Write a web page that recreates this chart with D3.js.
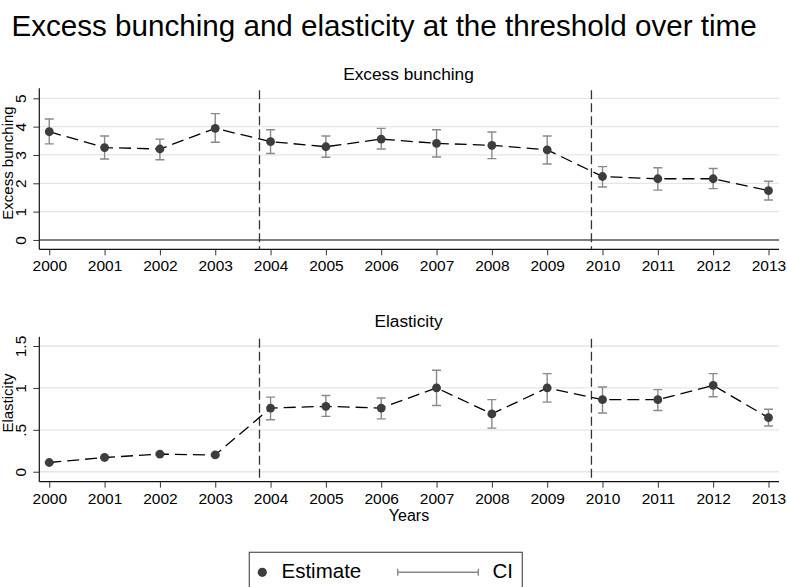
<!DOCTYPE html>
<html>
<head>
<meta charset="utf-8">
<script src="https://cdn.jsdelivr.net/npm/d3@7/dist/d3.min.js"></script>
<style>
  html, body { margin: 0; padding: 0; background: #fff; }
  svg { display: block; font-family: "Liberation Sans", Arial, Helvetica, sans-serif; }
</style>
</head>
<body>
<svg id="chart" width="787" height="587"></svg>
<script>
// Survey years
const years = [2000, 2001, 2002, 2003, 2004, 2005, 2006, 2007, 2008, 2009, 2010, 2011, 2012, 2013];

// Excess bunching: point estimate and confidence interval
const bunchEst = [3.82, 3.26, 3.21, 3.94, 3.47, 3.29, 3.56, 3.41, 3.34, 3.18, 2.24, 2.16, 2.16, 1.74];
const bunchLo  = [3.39, 2.86, 2.83, 3.45, 3.05, 2.92, 3.21, 2.93, 2.87, 2.68, 1.87, 1.76, 1.81, 1.41];
const bunchHi  = [4.27, 3.67, 3.56, 4.46, 3.89, 3.67, 3.94, 3.89, 3.81, 3.67, 2.59, 2.55, 2.52, 2.07];

// Elasticity: point estimate and confidence interval
const elastEst = [0.11, 0.17, 0.21, 0.20, 0.76, 0.78, 0.76, 1.00, 0.69, 1.00, 0.86, 0.86, 1.03, 0.645];
const elastLo  = [0.10, 0.16, 0.20, 0.19, 0.62, 0.66, 0.63, 0.79, 0.52, 0.83, 0.70, 0.73, 0.895, 0.545];
const elastHi  = [0.12, 0.18, 0.22, 0.21, 0.89, 0.91, 0.88, 1.21, 0.86, 1.17, 1.01, 0.98, 1.17, 0.745];

// Reform dates marked with vertical lines
const reformBreaks = [2003.8, 2009.8];

// Axis ticks
const bunchTicks = [0, 1, 2, 3, 4, 5];
const elastTicks = [0, 0.5, 1, 1.5];
const elastTickLabels = ["0", ".5", "1", "1.5"];

const svg = d3.select("#chart");
svg.append("rect").attr("width", 787).attr("height", 587).attr("fill", "#fff");

const FONT_TICK = 15.5;
const FONT_SUB = 17.3;
const FONT_YTITLE = 15;

svg.append("text")
  .attr("x", 11.5).attr("y", 36)
  .attr("font-size", 29.6)
  .attr("fill", "#000")
  .text("Excess bunching and elasticity at the threshold over time");

const x = d3.scaleLinear().domain([1999.82, 2013.19]).range([39.3, 779]);

function panel(opts) {
  const { y, est, lo, hi, ticks, tickLabels, title, titleY, yTitle, yTitleY, zeroLine } = opts;
  const g = svg.append("g");
  const [yBottom, yTop] = y.range();

  // horizontal gridlines
  g.append("g").selectAll("line")
    .data(ticks.filter(t => !(zeroLine && t === 0)))
    .join("line")
    .attr("x1", x.range()[0]).attr("x2", x.range()[1])
    .attr("y1", d => y(d)).attr("y2", d => y(d))
    .attr("stroke", "#e6e6e6").attr("stroke-width", 1.3);

  if (zeroLine) {
    g.append("line")
      .attr("x1", x.range()[0]).attr("x2", x.range()[1])
      .attr("y1", y(0)).attr("y2", y(0))
      .attr("stroke", "#555").attr("stroke-width", 1.4);
  }

  // vertical reform lines
  g.append("g").selectAll("line")
    .data(reformBreaks)
    .join("line")
    .attr("x1", d => x(d)).attr("x2", d => x(d))
    .attr("y1", yTop + 2).attr("y2", yBottom)
    .attr("stroke", "#333").attr("stroke-width", 1.3)
    .attr("stroke-dasharray", "9,4");

  // y axis
  const yAxis = d3.axisLeft(y).tickValues(ticks).tickSize(6).tickPadding(0)
    .tickFormat((d, i) => tickLabels[i]);
  const ya = g.append("g").attr("transform", `translate(${x.range()[0]},0)`).call(yAxis);
  ya.select(".domain").attr("stroke", "#111").attr("stroke-width", 1.2)
    .attr("d", `M0,${yTop}V${yBottom}`);
  ya.selectAll(".tick line").attr("stroke", "#333").attr("stroke-width", 1);
  ya.selectAll(".tick text")
    .attr("transform", "rotate(-90)")
    .attr("x", 0).attr("y", -13.6).attr("dy", 0)
    .attr("text-anchor", "middle")
    .attr("font-size", FONT_TICK)
    .attr("font-family", "Liberation Sans, Arial, sans-serif")
    .attr("fill", "#000");

  // x axis
  const xAxis = d3.axisBottom(x).tickValues(years).tickSize(6).tickPadding(5)
    .tickFormat(d3.format("d"));
  const xa = g.append("g").attr("transform", `translate(0,${yBottom})`).call(xAxis);
  xa.select(".domain").attr("stroke", "#111").attr("stroke-width", 1.2)
    .attr("d", `M${x.range()[0]},0H${x.range()[1]}`);
  xa.selectAll(".tick line").attr("stroke", "#333").attr("stroke-width", 1);
  xa.selectAll(".tick text")
    .attr("font-size", FONT_TICK)
    .attr("font-family", "Liberation Sans, Arial, sans-serif")
    .attr("fill", "#000");

  // confidence intervals
  const ci = g.append("g").attr("stroke", "#8a8a8a").attr("stroke-width", 1.4).attr("fill", "none");
  const capW = 4.5;
  years.forEach((yr, i) => {
    const cx = x(yr);
    ci.append("path")
      .attr("d", `M${cx},${y(lo[i])}V${y(hi[i])}` +
                 `M${cx - capW},${y(lo[i])}H${cx + capW}` +
                 `M${cx - capW},${y(hi[i])}H${cx + capW}`);
  });

  // connecting dashed line
  const line = d3.line().x((d, i) => x(years[i])).y(d => y(d));
  g.append("path")
    .datum(est)
    .attr("d", line)
    .attr("fill", "none")
    .attr("stroke", "#000").attr("stroke-width", 1.3)
    .attr("stroke-dasharray", "12,6");

  // point estimates
  g.append("g").selectAll("circle")
    .data(est)
    .join("circle")
    .attr("cx", (d, i) => x(years[i]))
    .attr("cy", d => y(d))
    .attr("r", 4.4)
    .attr("fill", "#3d3d3d");

  // subtitles
  g.append("text")
    .attr("x", 408.5).attr("y", titleY)
    .attr("text-anchor", "middle")
    .attr("font-size", FONT_SUB)
    .text(title);

  g.append("text")
    .attr("transform", `translate(12.5,${yTitleY}) rotate(-90)`)
    .attr("text-anchor", "middle")
    .attr("font-size", FONT_YTITLE)
    .text(yTitle);
}

const yBunch = d3.scaleLinear().domain([-0.33, 5.353]).range([249.3, 88.3]);
panel({
  y: yBunch, est: bunchEst, lo: bunchLo, hi: bunchHi,
  ticks: bunchTicks, tickLabels: bunchTicks.map(String),
  title: "Excess bunching", titleY: 80,
  yTitle: "Excess bunching", yTitleY: 163, zeroLine: true
});

const yElast = d3.scaleLinear().domain([-0.119, 1.611]).range([481.7, 336.7]);
panel({
  y: yElast, est: elastEst, lo: elastLo, hi: elastHi,
  ticks: elastTicks, tickLabels: elastTickLabels,
  title: "Elasticity", titleY: 327,
  yTitle: "Elasticity", yTitleY: 403, zeroLine: false
});

// x axis title
svg.append("text")
  .attr("x", 409).attr("y", 521)
  .attr("text-anchor", "middle")
  .attr("font-size", 16)
  .text("Years");

// legend
const lg = svg.append("g");
lg.append("rect")
  .attr("x", 249.3).attr("y", 552.3).attr("width", 273).attr("height", 60)
  .attr("fill", "#fff").attr("stroke", "#555").attr("stroke-width", 1.2);
lg.append("circle").attr("cx", 262.3).attr("cy", 572.3).attr("r", 4.6).attr("fill", "#3d3d3d");
lg.append("text").attr("x", 281.5).attr("y", 577.7).attr("font-size", 20.5).text("Estimate");
lg.append("path")
  .attr("d", "M397.7,572.3H478.3M397.7,568.8V575.8M478.3,568.8V575.8")
  .attr("stroke", "#8a8a8a").attr("stroke-width", 1.4).attr("fill", "none");
lg.append("text").attr("x", 492.5).attr("y", 577.7).attr("font-size", 20.5).text("CI");
</script>
</body>
</html>
